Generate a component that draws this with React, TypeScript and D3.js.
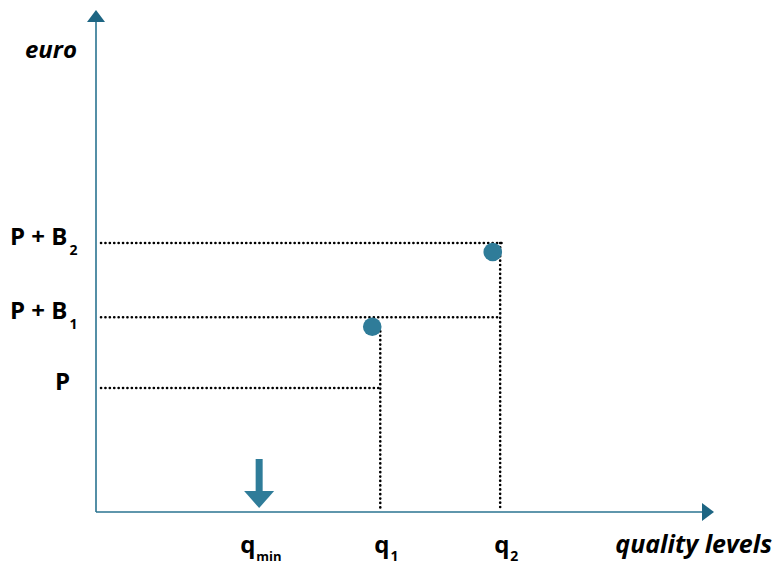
import React from "react";
import * as d3 from "d3";

const W = 779, H = 564;

// price levels (y values) and their labels
const priceLabels = ["P", "P + B", "P + B"];
const priceSubs = ["", "1", "2"];
const priceValues = [2.47, 3.88, 5.36];
// extent (x value) of horizontal dotted lines
const priceLineEnds = [4.62, 6.5, 6.57];

// quality levels (x values)
const qualityLabels = ["q", "q", "q"];
const qualitySubs = ["min", "1", "2"];
const qualityValues = [2.64, 4.6, 6.54];
// top of vertical dotted guides (y value) for q1, q2
const guideTops = [3.6, 5.36];

// points (quality, price)
const pointX = [4.47, 6.42];
const pointY = [3.69, 5.18];

const TEAL = "#2f7c99";
const AXIS = "#2a7390";

export default function App() {
  const x = d3.scaleLinear().domain([0, 10]).range([96, 714]);
  const y = d3.scaleLinear().domain([0, 10]).range([512, 10]);
  const font = "'Open Sans', 'Noto Sans', sans-serif";

  return (
    <svg width={W} height={H} style={{ display: "block", position: "absolute", left: 0, top: 0 }} fontFamily={font}>
      {/* horizontal dotted lines */}
      {priceValues.map((v, i) => (
        <line key={"h" + i} x1={x(0) + 5} x2={x(priceLineEnds[i])} y1={y(v)} y2={y(v)}
          stroke="#000" strokeWidth={2.6} strokeDasharray="0.1 4.3" strokeLinecap="round" />
      ))}
      {/* vertical dotted lines */}
      {guideTops.map((t, i) => (
        <line key={"v" + i} x1={x(qualityValues[i + 1])} x2={x(qualityValues[i + 1])} y1={y(t)} y2={y(0) - 3}
          stroke="#000" strokeWidth={2.6} strokeDasharray="0.1 4.3" strokeLinecap="round" />
      ))}
      {/* axes */}
      <line x1={x(0)} x2={x(0)} y1={y(0)} y2={y(10) + 12} stroke={AXIS} strokeWidth={1.6} />
      <path d={`M${x(0)},${y(10)} L${x(0) - 9},${y(10) + 12} L${x(0) + 9},${y(10) + 12} Z`} fill="#1d6583" />
      <line x1={x(0)} x2={x(10) - 12} y1={y(0)} y2={y(0)} stroke={AXIS} strokeWidth={1.6} />
      <path d={`M${x(10)},${y(0)} L${x(10) - 12},${y(0) - 9} L${x(10) - 12},${y(0) + 9} Z`} fill="#1d6583" />
      {/* points */}
      {pointX.map((px, i) => (
        <circle key={"p" + i} cx={x(px)} cy={y(pointY[i])} r={9.3} fill={TEAL} />
      ))}
      {/* down arrow at q_min */}
      <g fill={TEAL}>
        <rect x={x(qualityValues[0]) - 3.5} y={459} width={7} height={33} />
        <path d={`M${x(qualityValues[0]) - 15},${491} L${x(qualityValues[0]) + 15},${491} L${x(qualityValues[0])},${508} Z`} />
      </g>
      {/* y labels */}
      <text x={25} y={58} fontSize={24} fontWeight={700} fontStyle="italic" fill="#000">euro</text>
      {priceValues.map((v, i) => (
        <text key={"yl" + i} x={i === 0 ? 55 : 10} y={y(v) + 2} fontSize={24} fontWeight={700} fill="#000">
          {priceLabels[i]}
          {priceSubs[i] && <tspan fontSize={14} dx={2} dy={10}>{priceSubs[i]}</tspan>}
        </text>
      ))}
      {/* x labels */}
      {qualityValues.map((v, i) => (
        <text key={"xl" + i} x={x(v) - (i === 0 ? 19 : 6)} y={553} fontSize={24} fontWeight={700} fill="#000">
          {qualityLabels[i]}
          <tspan fontSize={i === 0 ? 13 : 14} dx={1} dy={8}>{qualitySubs[i]}</tspan>
        </text>
      ))}
      <text x={772} y={553} textAnchor="end" fontSize={25} fontWeight={700} fontStyle="italic" fill="#000">quality levels</text>
    </svg>
  );
}
